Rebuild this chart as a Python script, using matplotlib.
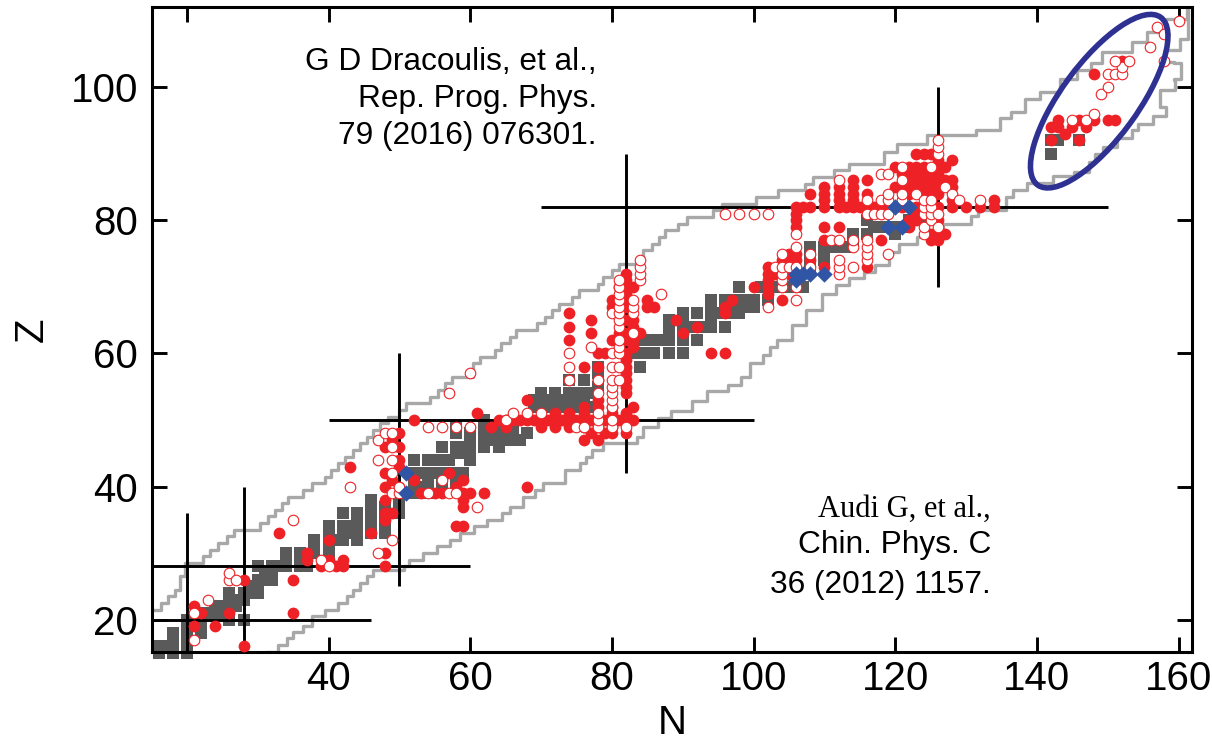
"""Nuclear chart (N vs Z) with isomer data, magic-number lines and drip-line stairs."""
import matplotlib

matplotlib.use("Agg")
import matplotlib.pyplot as plt
from matplotlib.patches import Ellipse
from matplotlib.transforms import ScaledTranslation

# stable / long-lived nuclei, (N, Z)
grey_pts = [
    (16, 15), (18, 15), (20, 15),
    (16, 16), (17, 16), (18, 16), (20, 16),
    (18, 17), (20, 17), (18, 18), (20, 18), (22, 18),
    (20, 19), (21, 19), (22, 19), (20, 20), (21, 20), (22, 20), (26, 20), (28, 20),
    (22, 21), (23, 21), (24, 21), (25, 21), (26, 21),
    (24, 22), (25, 22), (26, 22), (27, 22), (26, 23), (27, 23), (28, 23),
    (26, 24), (28, 24), (29, 24), (30, 24), (29, 25), (30, 25),
    (30, 26), (31, 26), (32, 26), (31, 27), (32, 27),
    (30, 28), (32, 28), (33, 28), (34, 28), (36, 28), (37, 28),
    (34, 29), (36, 29), (37, 29), (34, 30), (36, 30), (38, 30), (40, 30),
    (38, 31), (40, 31), (38, 32), (40, 32), (41, 32), (42, 32), (44, 32),
    (40, 33), (42, 33), (43, 33), (44, 33), (46, 33), (48, 33),
    (40, 34), (42, 34), (43, 34), (44, 34), (46, 34), (48, 34),
    (44, 35), (46, 35), (48, 35), (42, 36), (44, 36), (46, 36), (48, 36), (50, 36),
    (46, 37), (48, 37), (50, 37), (46, 38), (50, 38),
    (52, 39), (54, 39), (52, 40), (53, 40), (54, 40), (56, 40), (58, 40),
    (52, 41), (54, 41), (56, 41), (58, 41),
    (52, 42), (53, 42), (54, 42), (55, 42), (56, 42), (57, 42), (58, 42), (59, 42),
    (52, 44), (54, 44), (55, 44), (56, 44), (57, 44), (60, 44),
    (58, 45), (59, 45), (60, 45), (56, 46), (58, 46), (59, 46), (60, 46), (62, 46), (64, 46),
    (60, 47), (62, 47), (63, 47), (64, 47), (65, 47), (66, 47), (67, 47),
    (58, 48), (60, 48), (62, 48), (63, 48), (64, 48), (65, 48), (66, 48), (68, 48),
    (58, 49), (62, 49), (64, 49), (66, 49), (62, 50), (69, 52), (70, 52), (71, 52), (72, 52),
    (73, 52), (74, 52), (75, 52), (76, 52), (77, 52),
    (69, 53), (70, 53), (71, 53), (72, 53), (73, 53), (74, 53), (75, 53), (76, 53),
    (70, 54), (72, 54), (74, 54), (75, 54), (76, 54), (77, 54), (78, 55), (74, 56), (76, 56),
    (78, 57), (78, 58), (84, 58), (82, 60), (83, 60), (84, 60), (85, 60), (86, 60), (88, 60), (90, 60),
    (84, 62), (85, 62), (86, 62), (87, 62), (88, 62), (90, 62), (92, 62),
    (88, 63), (90, 63), (88, 64), (90, 64), (91, 64), (92, 64), (93, 64), (94, 64), (96, 64),
    (88, 65), (90, 65), (94, 65), (90, 66), (92, 66), (94, 66), (95, 66), (97, 66), (98, 66),
    (94, 67), (96, 67), (97, 67), (98, 67), (99, 67), (100, 67),
    (94, 68), (96, 68), (97, 68), (98, 68), (99, 68), (100, 68), (102, 68),
    (98, 70), (101, 70), (102, 70), (103, 70), (104, 70), (105, 70), (106, 70), (107, 70),
    (108, 73), (108, 74), (110, 74), (108, 75), (110, 75),
    (108, 76), (110, 76), (111, 76), (112, 76), (113, 76), (114, 77), (114, 78),
    (116, 78), (120, 78), (117, 79), (118, 79), (119, 79), (120, 79), (121, 79),
    (116, 80), (122, 80), (123, 80), (124, 80),
    (142, 90), (142, 92), (143, 92), (146, 92),
]

# filled red circles, (N, Z)
red_pts = [
    (28, 16), (21, 19), (24, 19), (22, 21), (26, 21), (35, 21), (21, 22), (28, 26), (35, 26),
    (37, 29), (40, 29), (42, 29), (37, 30), (48, 30), (39, 28), (41, 28), (42, 28), (48, 28),
    (40, 32), (33, 33), (46, 33), (48, 35), (48, 36), (49, 36), (48, 38), (48, 40), (50, 40),
    (43, 43), (48, 42), (50, 43), (49, 41), (52, 41), (50, 44), (48, 46), (50, 46),
    (49, 47), (50, 48), (53, 39), (55, 39), (56, 39), (59, 39), (60, 39), (62, 39),
    (57, 42), (58, 40), (59, 41), (59, 38), (59, 37), (58, 34), (59, 34), (68, 40),
    (52, 50), (61, 51), (68, 53), (63, 49), (65, 49), (70, 49), (72, 49), (74, 49), (76, 49),
    (64, 50), (65, 50), (66, 50), (67, 50), (68, 50), (69, 50), (70, 50), (71, 50), (72, 50),
    (73, 50), (74, 50), (75, 50), (76, 50), (77, 50), (78, 50), (79, 50), (80, 50), (81, 50),
    (82, 50), (83, 50), (72, 51), (74, 51), (76, 51), (80, 51), (82, 51),
    (76, 52), (78, 52), (80, 52), (83, 52), (78, 53), (82, 54),
    (76, 47), (78, 47), (77, 48), (79, 48), (80, 48), (82, 48), (78, 49), (80, 49),
    (82, 55), (82, 56), (78, 56), (82, 57), (76, 58), (78, 58), (82, 58), (78, 60), (79, 60),
    (82, 59), (82, 60), (83, 61), (80, 62), (82, 62), (83, 62), (81, 63), (82, 63), (84, 63),
    (74, 62), (74, 64), (74, 66), (77, 63), (77, 65), (83, 64), (83, 65), (82, 65),
    (80, 67), (80, 68), (81, 68), (82, 67), (82, 68), (82, 69), (82, 70), (83, 70), (81, 70),
    (82, 71), (82, 72), (85, 67), (85, 68), (86, 67),
    (89, 65), (90, 63), (92, 64), (94, 60), (96, 60), (96, 66), (96, 67), (97, 68), (100, 70),
    (102, 69), (102, 70), (104, 68), (102, 71), (102, 72), (102, 73), (103, 72), (105, 72),
    (104, 74), (105, 74), (105, 75), (106, 74), (106, 75), (108, 74), (110, 73), (116, 73),
    (106, 79), (106, 80), (106, 81), (106, 82), (107, 82), (108, 82), (110, 82), (112, 82),
    (113, 82), (114, 82), (115, 82), (116, 82), (117, 82), (118, 82), (119, 82), (120, 82),
    (121, 82), (122, 82), (123, 82),
    (108, 84), (110, 83), (110, 84), (110, 85), (112, 83), (112, 84), (112, 85),
    (114, 83), (114, 84), (114, 85), (114, 86), (116, 84), (116, 86),
    (110, 77), (110, 79), (112, 79), (118, 77),
    (120, 85), (120, 88), (121, 85), (121, 87), (122, 84), (122, 85), (122, 86), (122, 87), (122, 88),
    (123, 85), (123, 86), (123, 87), (123, 88), (123, 90), (124, 84), (124, 85), (124, 86), (124, 87),
    (124, 88), (124, 90), (125, 84), (125, 85), (125, 86), (125, 87), (125, 90),
    (126, 84), (126, 85), (126, 86), (126, 87), (126, 88), (126, 89), (127, 86), (127, 88),
    (128, 86), (128, 89), (128, 85), (122, 79), (122, 80), (123, 80), (123, 81), (124, 81),
    (126, 82), (126, 80), (125, 78), (126, 78), (125, 77), (126, 77), (127, 78),
    (128, 82), (128, 83), (130, 82), (132, 82), (134, 82), (134, 83),
    (142, 94), (143, 94), (143, 95), (144, 93), (145, 94), (146, 95), (147, 94), (148, 95),
    (150, 95), (151, 95), (142, 92), (146, 92), (148, 102), (152, 104),
]

# open red circles, (N, Z)
open_pts = [
    (21, 17), (21, 21), (23, 23), (26, 26), (26, 27), (27, 26), (35, 35), (39, 29), (40, 28),
    (43, 40), (47, 30), (49, 32), (49, 39), (50, 39), (50, 40), (49, 42), (47, 44), (49, 44),
    (49, 46), (47, 47), (48, 48), (49, 48), (54, 39), (56, 41), (57, 39), (58, 39), (61, 37),
    (54, 49), (56, 49), (58, 49), (60, 49), (57, 54), (60, 57),
    (65, 50), (66, 51), (68, 51), (70, 51), (75, 49), (76, 49), (78, 49), (78, 50), (78, 51),
    (80, 49), (80, 50), (82, 49), (78, 54), (80, 52), (80, 53), (80, 54), (80, 55),
    (74, 56), (74, 58), (74, 60), (77, 61), (78, 56), (80, 56), (80, 58), (80, 60), (80, 66),
    (81, 56), (81, 58), (81, 60), (81, 61), (81, 62), (81, 64), (81, 65), (81, 66), (81, 67),
    (81, 68), (81, 69), (81, 70), (81, 71), (83, 63), (83, 66), (83, 67), (83, 68),
    (84, 71), (84, 72), (84, 73), (84, 74), (87, 69),
    (96, 81), (98, 81), (100, 81), (102, 81), (102, 67), (106, 68), (106, 70), (104, 70),
    (103, 73), (104, 71), (104, 72), (104, 73), (105, 73), (106, 73), (104, 75),
    (106, 76), (106, 78), (108, 73), (108, 75), (111, 77), (112, 72), (112, 73), (112, 74),
    (112, 77), (112, 86), (114, 73), (114, 76), (114, 77), (116, 74), (116, 75), (116, 76),
    (116, 77), (116, 81), (116, 83), (117, 81), (118, 81), (118, 83), (118, 87), (119, 75),
    (119, 81), (119, 83), (119, 84), (119, 87), (121, 83), (121, 84), (121, 86), (121, 88),
    (123, 84), (124, 78), (124, 79), (124, 81), (124, 82), (124, 83), (125, 80), (125, 81),
    (125, 82), (125, 83), (125, 88), (126, 79), (126, 81), (126, 90), (126, 91), (126, 92),
    (127, 85), (128, 84), (129, 83), (132, 83),
    (145, 95), (147, 95), (148, 96), (149, 99), (150, 100), (150, 102), (151, 102), (152, 102),
    (152, 103), (151, 104), (153, 104), (156, 106), (157, 109), (158, 108), (158, 104), (160, 110),
]

# blue diamonds, (N, Z)
diamond_pts = [
    (51, 39), (51, 42), (106, 71), (106, 72), (107, 72), (108, 72), (110, 72),
    (119, 79), (121, 79), (120, 82), (122, 82),
]

# drip-line staircases (steps-post vertices)
upper_n = [15.3, 16.3, 17.3, 18.3, 19, 19.7, 22.3, 23.3, 24.4, 25.6, 26.6, 30.3, 31.5, 32.4,
           33.4, 34.3, 36.4, 37.6, 39.5, 40.4, 41.4, 42.3, 43.5, 44.4, 45.4, 46.3, 47.3, 48.4,
           49.9, 51, 54.3, 55.5, 56.4, 57.4, 60.4, 61.4, 63.5, 64.4, 65.6, 66.5, 69.4, 70.6,
           71.6, 72.5, 74.4, 75.3, 78.1, 78.8, 80, 81, 84.4, 85.6, 86.6, 87.5, 89.4, 90.6, 94.3,
           95.5, 100.4, 103.5, 107.3, 108.4, 111.4, 113.5, 118.4, 120.3, 124.5, 131.4, 134.8,
           136.4, 138.3, 140.4, 143.3, 145.6, 147.7, 149.2, 153.4, 155.5, 158.1, 158.3, 161.2]
upper_z = [21.5, 22.5, 23.5, 24.5, 26.5, 28.5, 29.5, 30.5, 31.5, 32.5, 33.5, 34.5, 35.5, 36.5,
           37.5, 38.5, 39.5, 40.5, 41.5, 42.5, 43.5, 44.5, 45.5, 46.5, 47.5, 48.5, 49.5, 50.5,
           51.5, 52.5, 53.5, 54.5, 55.5, 56.5, 58.5, 59.5, 60.5, 61.5, 62.5, 63.5, 64.5, 65.5,
           66.5, 67.5, 68.5, 69.5, 70.5, 71.5, 72.5, 73.5, 75.5, 76.5, 77.5, 78.5, 79.5, 80.5,
           81.5, 82.5, 83.5, 84.5, 85.5, 86.5, 87.5, 88.5, 90.3, 91.5, 92.8, 93.5, 95.3, 96.3,
           98.3, 99.3, 101.3, 102.6, 103.6, 105.3, 106.8, 108.3, 109.3, 110.3, 111.6]

lower_n = [31.5, 32.9, 34.1, 35, 36.4, 37.6, 39.5, 41.4, 42.6, 43.5, 44.4, 45.4, 46.3, 50.6,
           51.3, 53.4, 55.3, 57.2, 58.6, 60.5, 62.4, 64.5, 65.6, 67.5, 69.2, 70.3, 73.4, 75.5,
           76.4, 77.2, 78.8, 83.5, 84.4, 86.5, 88.4, 91.3, 93.4, 96.4, 98.3, 99.5, 101.4, 102.3,
           103.3, 105.4, 107.4, 109.7, 111.6, 113.5, 115.6, 117.2, 119.1, 120.5, 123.1, 126.7,
           130.7, 131.7, 135.6, 136.7, 138.6, 142.3, 145.2, 147.3, 148.2, 149.4, 151.3, 153.4,
           154.3, 156.4, 158.3, 157.4, 159.5, 159.3, 160.4, 159.3, 158.1, 160.2, 161.4, 161.4]
lower_z = [15.2, 16.2, 17.2, 18.2, 19, 20.5, 21.5, 22.5, 23.5, 24.5, 25.5, 26.5, 27.5, 28,
           29, 30, 31, 32, 33, 34, 35, 36, 37, 38.5, 39.5, 40.5, 42.5, 43.5,
           44.4, 45.5, 46.5, 47.5, 49, 50.3, 51.3, 52.8, 54.3, 55.3, 56.5, 58.5, 59.8, 61,
           62, 64.3, 66.5, 69, 70.3, 71.3, 72.3, 73.3, 75.3, 76.5, 77.5, 79.5,
           80.6, 81.6, 83.5, 84.6, 85.6, 86.6, 87.3, 88.8, 90, 91, 92.3, 93.6,
           94.5, 95.6, 97.1, 99.6, 101.1, 101.3, 103.6, 103.8, 105.6, 107.3, 107.6, 111.6]

# magic-number guide lines
magic_v = [(20, 15.1, 36), (28, 15.1, 40), (50, 25, 60), (82, 42, 90), (126, 70, 100)]
magic_h = [(20, 15.1, 46), (28, 15.1, 60), (50, 40, 100), (82, 70, 150)]

x_ticks = [20, 40, 60, 80, 100, 120, 140, 160]
x_labels = ["", "40", "60", "80", "100", "120", "140", "160"]
y_ticks = [20, 40, 60, 80, 100]

RED = "#ed2126"
W, H = 1212, 746
SANS = "Liberation Sans"


def xy(pts):
    return [p[0] for p in pts], [p[1] for p in pts]


plt.rcParams["font.family"] = SANS
fig = plt.figure(figsize=(W / 100, H / 100), dpi=100)
ax = fig.add_axes([152 / W, 1 - 652 / H, (1192 - 152) / W, (652 - 7) / H])
ax.set_xlim(15.08, 161.9)
ax.set_ylim(15.14, 112.05)

ax.scatter(*xy(grey_pts), marker="s", s=66, color="#5a5a5a", linewidths=0, zorder=2, clip_on=False)
ax.plot(upper_n, upper_z, drawstyle="steps-post", color="#a8a8a8", lw=2.4, zorder=2.5)
ax.plot(lower_n, lower_z, drawstyle="steps-post", color="#a8a8a8", lw=2.4, zorder=2.5)
for n, z0, z1 in magic_v:
    ax.plot([n, n], [z0, z1], color="black", lw=2.1, zorder=3, solid_capstyle="butt")
for z, n0, n1 in magic_h:
    ax.plot([n0, n1], [z, z], color="black", lw=2.1, zorder=3, solid_capstyle="butt")
ax.scatter(*xy(red_pts), marker="o", s=72, color=RED, linewidths=0, zorder=4)
ax.scatter(*xy(open_pts), marker="o", s=58, facecolor="white", edgecolor=RED, linewidths=0.8, zorder=5)
ax.scatter(*xy(diamond_pts), marker="D", s=70, color="#2f55a4", linewidths=0, zorder=6)

# ring round the superheavy region, sized in inches so it stays a true tilted ellipse
ring = Ellipse((0, 0), 2.08, 0.76, angle=53.7, fill=False, edgecolor="#2e3192", lw=4, zorder=7,
               transform=fig.dpi_scale_trans + ScaledTranslation(148.8, 97.9, ax.transData))
ax.add_patch(ring)

ax.set_xticks(x_ticks, x_labels)
ax.set_yticks(y_ticks)
ax.tick_params(which="major", direction="in", top=True, right=True, length=11, width=2.1,
               labelsize=29)
ax.tick_params(axis="x", pad=6)
ax.tick_params(axis="y", pad=10)
for s in ax.spines.values():
    s.set_linewidth(2.2)
ax.set_xlabel("N", fontsize=29, labelpad=4)
ax.set_ylabel("Z", fontsize=29, labelpad=14)

for txt, y in [("G D Dracoulis, et al.,", 69.5), ("Rep. Prog. Phys.", 107), ("79 (2016) 076301.", 144)]:
    fig.text(597 / W, 1 - y / H, txt, ha="right", va="baseline", fontsize=22.8)
fig.text(991 / W, 1 - 517 / H, "Audi G, et al.,", ha="right", va="baseline", fontsize=22,
         family="Liberation Serif")
for txt, y in [("Chin. Phys. C", 553), ("36 (2012) 1157.", 593)]:
    fig.text(991 / W, 1 - y / H, txt, ha="right", va="baseline", fontsize=22.8)

fig.savefig("out.png", dpi=100)
